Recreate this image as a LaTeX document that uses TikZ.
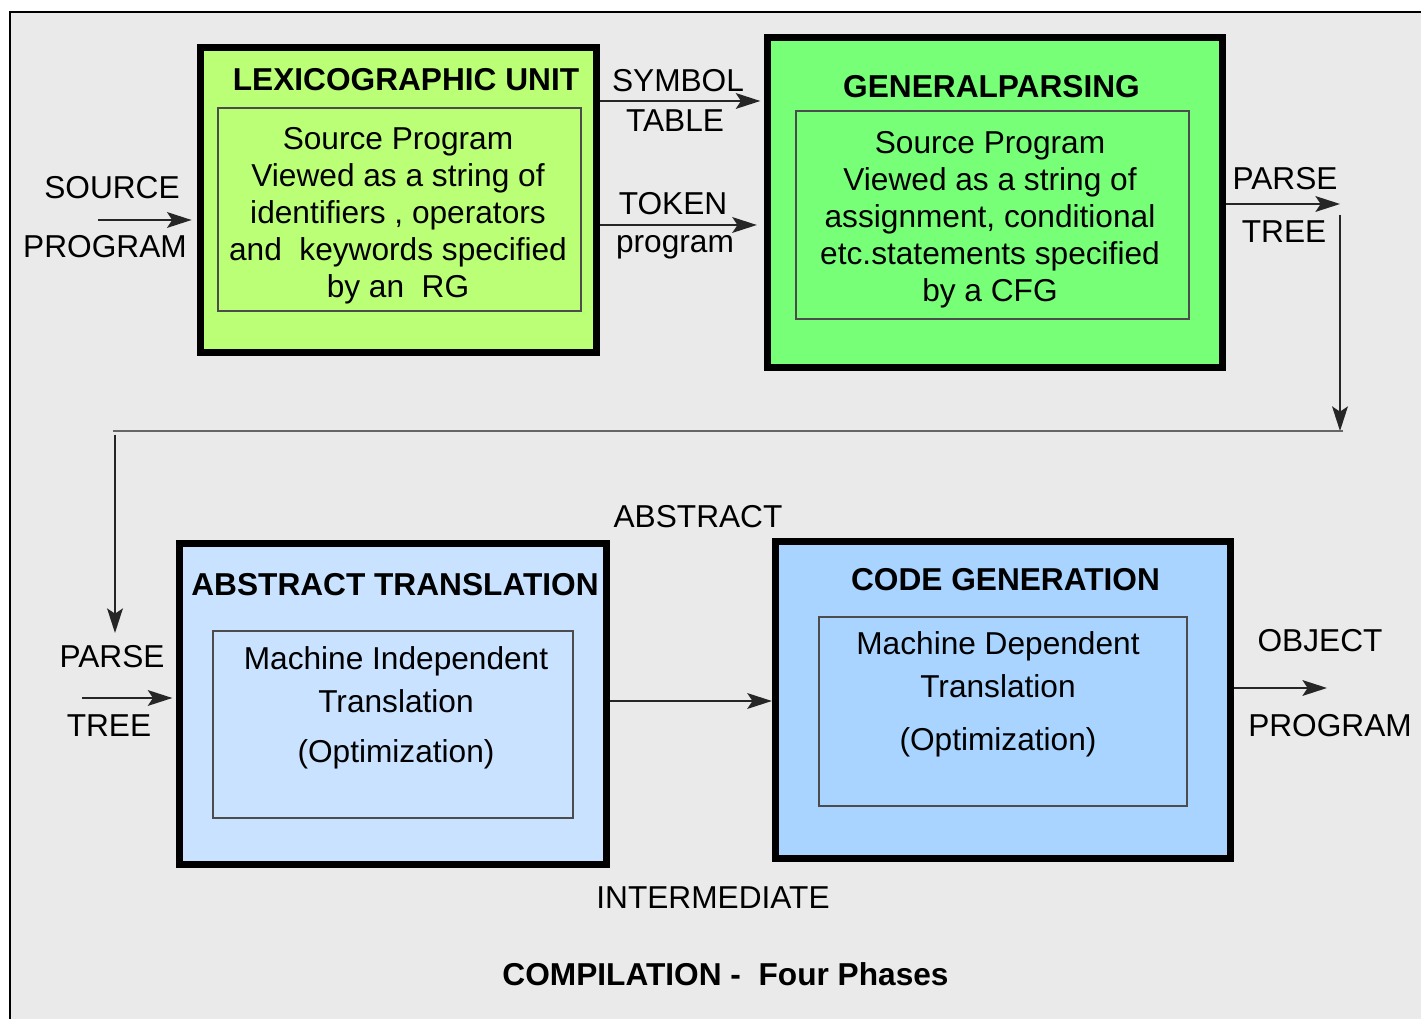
\documentclass[tikz,border=0pt]{standalone}
\usepackage{fontspec}
\setmainfont{Liberation Sans}
\usetikzlibrary{arrows.meta}

\begin{document}
\begin{tikzpicture}[x=0.01cm,y=-0.01cm,
	phase/.style={draw,line width=2pt,inner sep=0pt},
	frame/.style={draw=black!70,line width=0.4pt,inner sep=0pt},
	tag/.style={font=\fontsize{9}{10.5}\selectfont,inner sep=0pt,anchor=base},
	head/.style={font=\fontsize{9}{10.5}\selectfont\bfseries,inner sep=0pt,anchor=base},
	body/.style={font=\fontsize{9}{10.5}\selectfont,inner sep=0pt,align=center},
	flow/.style={draw=black!85,line width=0.45pt,-{Stealth[length=7pt,width=4.5pt,inset=1.5pt]}}]
	\definecolor{sheet}{RGB}{234,234,234}
	\definecolor{lexgreen}{RGB}{187,255,119}
	\definecolor{parsegreen}{RGB}{119,255,119}
	\definecolor{abstblue}{RGB}{200,226,255}
	\definecolor{codeblue}{RGB}{168,212,255}

	\useasboundingbox (0,0) rectangle (1421,1019);
	\fill[sheet] (10,12) rectangle (1421,1019);
	\draw[line width=0.6pt] (10,1019) -- (10,12) -- (1421,12);

	\node[phase,fill=lexgreen,minimum width=3.96cm,minimum height=3.05cm] (lex) at (398.5,200) {};
	\node[phase,fill=parsegreen,minimum width=4.55cm,minimum height=3.30cm] (gp) at (995,202.5) {};
	\node[phase,fill=abstblue,minimum width=4.27cm,minimum height=3.21cm] (abs) at (393,704) {};
	\node[phase,fill=codeblue,minimum width=4.55cm,minimum height=3.17cm] (cg) at (1003,700) {};

	\node[frame,minimum width=3.63cm,minimum height=2.03cm] (lexin) at (399.5,209.5) {};
	\node[frame,minimum width=3.93cm,minimum height=2.08cm] (gpin) at (992.5,215) {};
	\node[frame,minimum width=3.60cm,minimum height=1.87cm] (absin) at (393,724.5) {};
	\node[frame,minimum width=3.68cm,minimum height=1.89cm] (cgin) at (1003,711.5) {};

	\node[head] (lexhead) at (406,91) {LEXICOGRAPHIC UNIT};
	\node[head] (gphead) at (991.5,98) {GENERALPARSING};
	\node[head] (abshead) at (395,596) {ABSTRACT TRANSLATION};
	\node[head] (cghead) at (1005.5,591) {CODE GENERATION};

	\node[body] (lextext) at (398,215.5) {Source Program\\Viewed as a string of\\identifiers , operators\\and\ \ keywords specified\\by an\ \ RG};
	\node[body] (gptext) at (990,219.5) {Source Program\\Viewed as a string of\\assignment, conditional\\etc.statements specified\\by a CFG};
	\node[body] (abstext) at (396,708) {Machine Independent\\[1.7pt]Translation\\[3.7pt](Optimization)};
	\node[body] (cgtext) at (998,694) {Machine Dependent\\[1.7pt]Translation\\[4.6pt](Optimization)};

	\node[tag] (srcup) at (112,199) {SOURCE};
	\node[tag] (srcdown) at (105,258) {PROGRAM};
	\node[tag] (symup) at (678,92) {SYMBOL};
	\node[tag] (symdown) at (675,132) {TABLE};
	\node[tag] (tokup) at (673,215) {TOKEN};
	\node[tag] (tokdown) at (675,253) {program};
	\node[tag] (ptup) at (1285,190) {PARSE};
	\node[tag] (ptdown) at (1284,243) {TREE};
	\node[tag] (ptinup) at (112,668) {PARSE};
	\node[tag] (ptindown) at (109,737) {TREE};
	\node[tag] (midup) at (698,528) {ABSTRACT};
	\node[tag] (middown) at (713,908) {INTERMEDIATE};
	\node[tag] (objup) at (1320,652) {OBJECT};
	\node[tag] (objdown) at (1330,737) {PROGRAM};
	\node[head] (caption) at (725.5,985) {COMPILATION -\ \ Four Phases};

	\coordinate (srcin) at (98,220);
	\coordinate (symrow) at (0,101);
	\coordinate (tokrow) at (0,225);
	\coordinate (turn) at (1340,204);
	\coordinate (bendR) at (1340,431);
	\coordinate (bendL) at (115,431);
	\coordinate (ptin) at (115,633);
	\coordinate (ptstart) at (82,698);
	\coordinate (midrow) at (0,701);
	\coordinate (objout) at (1327,688);

	\draw[flow,shorten >=1.5pt] (srcin) -- (srcin -| lex.west);
	\draw[flow,shorten >=1pt] (lex.east |- symrow) -- (gp.west |- symrow);
	\draw[flow,shorten >=2pt] (lex.east |- tokrow) -- (gp.west |- tokrow);
	\draw[flow] (gp.east |- turn) -- (turn);
	\draw[flow,shorten <=3pt] (turn) -- (bendR);
	\draw[draw=black!60,line width=0.45pt] ([xshift=0.03cm]bendR) -- ([xshift=-0.02cm]bendL);
	\draw[flow,shorten <=1pt] (bendL) -- (ptin);
	\draw[flow,shorten >=1pt] (ptstart) -- (ptstart -| abs.west);
	\draw[flow] (abs.east |- midrow) -- (cg.west |- midrow);
	\draw[flow] (cg.east |- objout) -- (objout);
\end{tikzpicture}
\end{document}
